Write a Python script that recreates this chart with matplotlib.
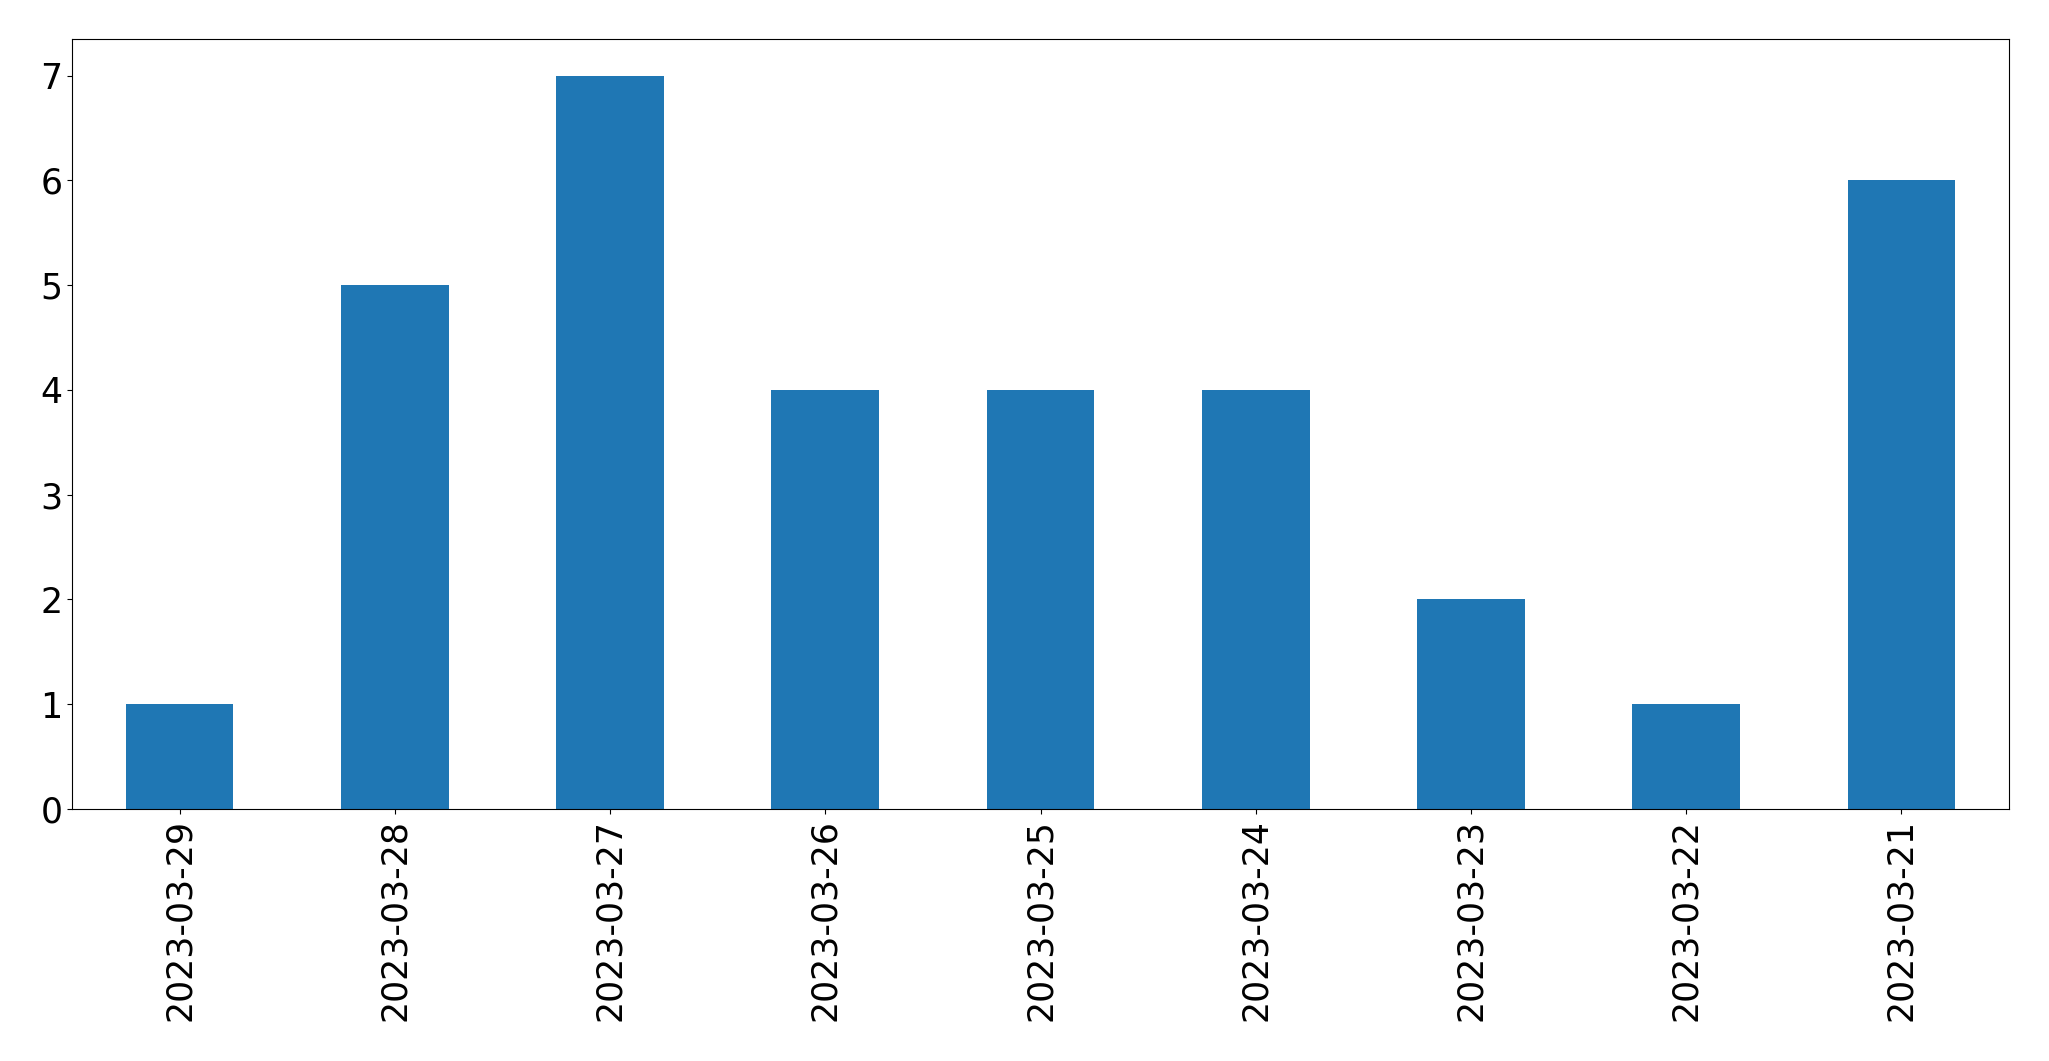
import matplotlib
matplotlib.use("Agg")
import matplotlib.pyplot as plt
import pandas as pd

# dates as they appear on the axis (newest first)
dates = ["2023-03-29", "2023-03-28", "2023-03-27", "2023-03-26", "2023-03-25",
         "2023-03-24", "2023-03-23", "2023-03-22", "2023-03-21"]
counts = [1, 5, 7, 4, 4, 4, 2, 1, 6]

s = pd.Series(counts, index=dates)

fig, ax = plt.subplots(figsize=(20.49, 10.61), dpi=100)
s.plot(kind="bar", ax=ax, fontsize=25)
fig.subplots_adjust(left=72 / 2049, right=2009 / 2049, top=1 - 39 / 1061, bottom=1 - 809 / 1061)
fig.savefig("out.png", dpi=100)
